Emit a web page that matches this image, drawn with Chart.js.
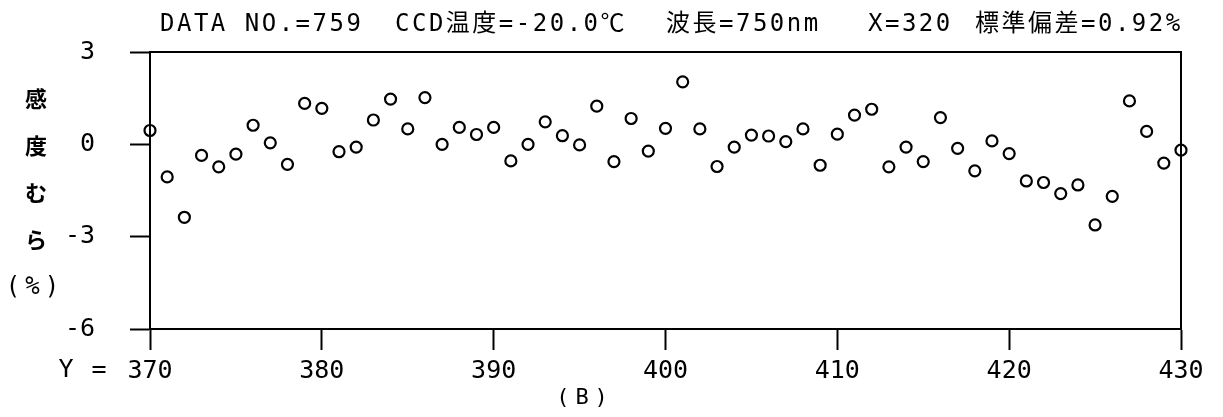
<!DOCTYPE html>
<html>
<head>
<meta charset="utf-8">
<script src="https://cdn.jsdelivr.net/npm/chart.js@4"></script>
<style>
  html, body { margin: 0; padding: 0; background: #fff; }
  #wrap { width: 1223px; height: 417px; position: relative; }
</style>
</head>
<body>
<div id="wrap"><canvas id="chart"></canvas></div>
<script>
// pixel row positions along the CCD (Y) and sensitivity unevenness (%) at each
var rowPos = [370, 371, 372, 373, 374, 375, 376, 377, 378, 379,
              380, 381, 382, 383, 384, 385, 386, 387, 388, 389,
              390, 391, 392, 393, 394, 395, 396, 397, 398, 399,
              400, 401, 402, 403, 404, 405, 406, 407, 408, 409,
              410, 411, 412, 413, 414, 415, 416, 417, 418, 419,
              420, 421, 422, 423, 424, 425, 426, 427, 428, 429, 430];
var unevenness = [0.45, -1.06, -2.37, -0.36, -0.73, -0.32, 0.62, 0.05, -0.65, 1.33,
                  1.17, -0.24, -0.09, 0.79, 1.47, 0.5, 1.52, 0.0, 0.55, 0.32,
                  0.55, -0.54, 0.0, 0.73, 0.28, -0.02, 1.24, -0.56, 0.84, -0.22,
                  0.52, 2.03, 0.5, -0.72, -0.09, 0.3, 0.27, 0.09, 0.5, -0.68,
                  0.33, 0.95, 1.14, -0.73, -0.09, -0.56, 0.87, -0.13, -0.86, 0.11,
                  -0.3, -1.19, -1.24, -1.6, -1.32, -2.62, -1.69, 1.41, 0.42, -0.61, -0.19];

var xTicks = [370, 380, 390, 400, 410, 420, 430];
var yTicks = [-6, -3, 0, 3];

var titleParts = ['DATA NO.=759', 'CCD温度=-20.0℃', '波長=750nm', 'X=320', '標準偏差=0.92%'];
var titleX = [160, 395, 666, 868, 975];
var yTitleChars = ['感', '度', 'む', 'ら'];

var MONO = '"DejaVu Sans Mono", "Noto Sans CJK JP", monospace';
var INK = '#000';

function drawText(ctx, txt, x, y, font, align, spacing) {
  ctx.save();
  ctx.font = font;
  ctx.fillStyle = INK;
  ctx.textAlign = align || 'left';
  ctx.textBaseline = 'middle';
  ctx.letterSpacing = (spacing || 0) + 'px';
  ctx.fillText(txt, x, y);
  ctx.restore();
}

// frame (top + right edges) and the loose labels around the plot
var decorations = {
  id: 'decorations',
  afterDraw(chart) {
    const ctx = chart.ctx;
    const a = chart.chartArea;
    ctx.save();
    ctx.strokeStyle = INK;
    ctx.lineWidth = 2;
    ctx.beginPath();
    ctx.moveTo(a.left, a.top);
    ctx.lineTo(a.right, a.top);
    ctx.lineTo(a.right, a.bottom);
    ctx.stroke();
    ctx.restore();

    titleParts.forEach((t, i) => drawText(ctx, t, titleX[i], 25, '24px ' + MONO, 'left', 2.5));

    yTitleChars.forEach((c, i) => drawText(ctx, c, 36, 99 + i * 47, 'bold 22px "Noto Sans CJK JP"', 'center', 0));
    drawText(ctx, '(%)', 35, 288, '24px ' + MONO, 'center', 5);

    drawText(ctx, 'Y', 66, 370, '25px ' + MONO, 'center', 0);
    drawText(ctx, '=', 99, 370, '25px ' + MONO, 'center', 0);
    drawText(ctx, '(B)', 585, 398, '22px ' + MONO, 'center', 6);
  }
};

new Chart(document.getElementById('chart'), {
  type: 'scatter',
  data: {
    datasets: [{
      data: rowPos.map((p, i) => ({ x: p, y: unevenness[i] })),
      pointStyle: 'circle',
      pointRadius: 5.5,
      pointHoverRadius: 5.5,
      backgroundColor: 'rgba(255,255,255,0)',
      borderColor: INK,
      borderWidth: 2.2,
      clip: false
    }]
  },
  options: {
    responsive: true,
    maintainAspectRatio: false,
    animation: false,
    events: [],
    layout: { padding: { left: 0, right: 42, top: 52, bottom: 0 } },
    plugins: { legend: { display: false }, tooltip: { enabled: false }, title: { display: false } },
    scales: {
      x: {
        type: 'linear',
        min: 370, max: 430,
        afterBuildTicks: s => { s.ticks = xTicks.map(v => ({ value: v })); },
        afterFit: s => { s.height = 88; },
        border: { display: true, color: INK, width: 2 },
        grid: { drawOnChartArea: false, drawTicks: true, tickLength: 21, tickWidth: 2, tickColor: INK },
        ticks: { color: INK, padding: 6, maxRotation: 0, font: { family: MONO, size: 25 } }
      },
      y: {
        type: 'linear',
        min: -6, max: 3,
        afterBuildTicks: s => { s.ticks = yTicks.map(v => ({ value: v })); },
        afterFit: s => { s.width = 150; },
        border: { display: true, color: INK, width: 2 },
        grid: { drawOnChartArea: false, drawTicks: true, tickLength: 20, tickWidth: 2, tickColor: INK },
        ticks: { color: INK, padding: 35, font: { family: MONO, size: 25 } }
      }
    }
  },
  plugins: [decorations]
});
</script>
</body>
</html>
